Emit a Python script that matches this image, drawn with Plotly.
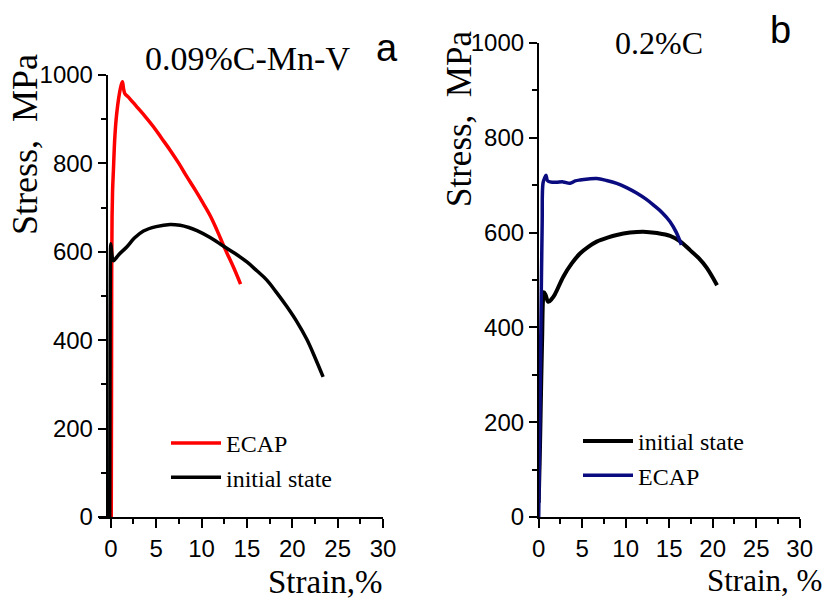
import plotly.graph_objects as go

# ---- Panel a: 0.09%C-Mn-V steel ----
a_ecap_strain = [0.05, 0.08, 0.10, 0.14, 0.20, 0.29, 0.42, 0.58, 0.75, 0.95, 1.12, 1.28,
                 1.40, 1.55, 1.94, 2.87, 3.8, 4.70, 5.6, 6.54, 7.5, 8.38, 9.3, 10.2,
                 11.0, 11.7, 12.6, 13.5, 14.3]
a_ecap_stress = [0, 300, 559, 680, 740, 785, 850, 898, 930, 958, 975, 985,
                 970, 958, 950, 928, 906, 883, 857, 830, 800, 770, 740, 709,
                 680, 649, 606, 566, 527]

a_init_strain = [-0.12, -0.10, -0.08, -0.05, 0.0, 0.1, 0.2, 0.3, 0.5, 0.9, 1.76, 2.6,
                 3.6, 5.0, 6.54, 7.64, 8.6, 9.5, 10.9, 12.4, 13.7, 15.0, 16.1, 17.2,
                 18.3, 19.4, 20.5, 21.6, 22.5, 23.4]
a_init_stress = [0, 200, 400, 560, 618, 598, 583, 580, 584, 594, 611, 631,
                 647, 657, 662, 660, 655, 648, 633, 613, 596, 577, 557, 536,
                 507, 476, 442, 402, 361, 317]

# ---- Panel b: 0.2%C steel ----
b_init_strain = [0.0, 0.15, 0.3, 0.4, 0.5, 0.6, 0.8, 1.1, 1.5, 1.87, 2.83, 3.8, 4.75,
                 5.7, 6.67, 8.0, 8.97, 10.5, 12.0, 13.6, 15.1, 16.3, 17.4, 18.4, 19.3, 20.5]
b_init_stress = [30, 150, 296, 380, 460, 474, 468, 454, 460, 470, 507, 535, 556,
                 570, 581, 590, 595, 600, 602, 599, 593, 581, 563, 546, 526, 489]

b_ecap_strain = [0.0, 0.1, 0.2, 0.3, 0.4, 0.5, 0.7, 0.84, 1.0, 1.3, 2.0, 2.8, 3.6,
                 4.2, 4.75, 5.7, 6.67, 7.8, 8.97, 10.1, 11.3, 12.3, 13.2, 14.2, 15.1,
                 15.8, 16.4]
b_ecap_stress = [0, 150, 320, 480, 620, 705, 716, 721, 710, 707, 706, 707, 704,
                 709, 711, 713, 714, 710, 704, 695, 683, 671, 658, 642, 623,
                 601, 574]

x_ticks = [0, 5, 10, 15, 20, 25, 30]
y_ticks = [0, 200, 400, 600, 800, 1000]

W, H = 826, 601
SANS = "Liberation Sans, Arial, sans-serif"
SERIF = "Liberation Serif, Times New Roman, serif"


def px(x):
    return x / W


def py(y):
    return 1 - y / H


def curve(xs, ys, name, color, width, xa, ya, leg):
    return go.Scatter(x=xs, y=ys, mode="lines", name=name,
                      line=dict(color=color, width=width, shape="spline", smoothing=1.0),
                      xaxis=xa, yaxis=ya, legend=leg)


fig = go.Figure()
fig.add_trace(curve(a_ecap_strain, a_ecap_stress, "ECAP", "#ff0000", 3.5, "x", "y", "legend"))
fig.add_trace(curve(a_init_strain, a_init_stress, "initial state", "#000000", 3.5, "x", "y", "legend"))
fig.add_trace(curve(b_init_strain, b_init_stress, "initial state", "#000000", 4, "x2", "y2", "legend2"))
fig.add_trace(curve(b_ecap_strain, b_ecap_stress, "ECAP", "#0b0b80", 3.5, "x2", "y2", "legend2"))

xcommon = dict(tickvals=x_ticks, ticks="outside", ticklen=9, tickwidth=1.5,
               tickcolor="black", showline=True, linecolor="black", linewidth=1.5,
               showgrid=False, zeroline=False, automargin=False,
               tickfont=dict(family=SANS, size=24, color="black"),
               minor=dict(dtick=2.5, tick0=0, ticks="outside", ticklen=5,
                          tickwidth=1.5, tickcolor="black", showgrid=False))
ycommon = dict(tickvals=y_ticks, range=[0, 1000], ticks="outside", ticklen=8, tickwidth=1.5,
               tickcolor="black", showline=True, linecolor="black", linewidth=1.5,
               showgrid=False, zeroline=False, automargin=False,
               tickfont=dict(family=SANS, size=24, color="black"),
               minor=dict(dtick=100, tick0=0, ticks="outside", ticklen=5,
                          tickwidth=1.5, tickcolor="black", showgrid=False))

fig.update_layout(
    width=W, height=H,
    margin=dict(l=0, r=0, t=0, b=0),
    paper_bgcolor="white", plot_bgcolor="white",
    xaxis=dict(**xcommon, range=[-1.3, 30], domain=[px(99), px(383)], anchor="y"),
    yaxis=dict(**ycommon, domain=[py(517), py(75)], anchor="free", position=px(106.5)),
    xaxis2=dict(**xcommon, range=[0, 30], domain=[px(538.7), px(799.7)], anchor="y2"),
    yaxis2=dict(**ycommon, domain=[py(517), py(43)], anchor="x2"),
    legend=dict(x=px(166), y=py(421), xanchor="left", yanchor="top",
                bgcolor="rgba(0,0,0,0)", itemwidth=50,
                font=dict(family=SERIF, size=24, color="black")),
    legend2=dict(x=px(578), y=py(419), xanchor="left", yanchor="top",
                 bgcolor="rgba(0,0,0,0)", itemwidth=50,
                 font=dict(family=SERIF, size=24, color="black")),
    showlegend=True,
)

annotations = [
    dict(text="0.09%C-Mn-V", x=px(247), y=py(58), font=dict(family=SERIF, size=34)),
    dict(text="a", x=px(387), y=py(48), font=dict(family=SANS, size=38)),
    dict(text="0.2%C", x=px(659), y=py(43), font=dict(family=SERIF, size=32)),
    dict(text="b", x=px(780), y=py(30), font=dict(family=SANS, size=38)),
    dict(text="Strain,%", x=px(325), y=py(582), font=dict(family=SERIF, size=33)),
    dict(text="Strain, %", x=px(764), y=py(580), font=dict(family=SERIF, size=31)),
    dict(text="Stress,  MPa", x=px(25), y=py(145), textangle=-90,
         font=dict(family=SERIF, size=36)),
    dict(text="Stress,  MPa", x=px(459), y=py(119), textangle=-90,
         font=dict(family=SERIF, size=35)),
]
for ann in annotations:
    ann.update(xref="paper", yref="paper", xanchor="center", yanchor="middle",
               showarrow=False)
    ann["font"]["color"] = "black"
fig.update_layout(annotations=annotations)

fig.write_html("out.html")
